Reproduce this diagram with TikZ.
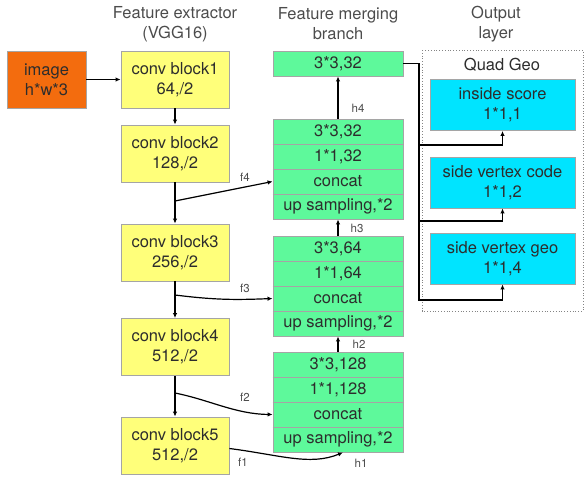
\documentclass[tikz,border=0pt]{standalone}
\usepackage{fontspec}
\setmainfont{TeX Gyre Heros}
\usetikzlibrary{arrows.meta}
\definecolor{orng}{RGB}{243,108,14}
\definecolor{ylw}{RGB}{255,255,122}
\definecolor{grn}{RGB}{94,249,155}
\definecolor{cyn}{RGB}{0,228,255}
\definecolor{txt}{RGB}{45,45,45}
\definecolor{bdr}{RGB}{165,165,165}
\begin{document}
\begin{tikzpicture}[x=1pt,y=-1pt,
  box/.style={draw=bdr,line width=0.9pt,inner sep=0pt,align=center,text=txt,font=\fontsize{16.5}{20}\selectfont},
  img/.style={box,fill=orng,minimum width=79pt,minimum height=57pt},
  conv/.style={box,fill=ylw,minimum width=108pt,minimum height=57pt},
  mrg/.style={box,fill=grn,minimum width=130pt,minimum height=25pt},
  outb/.style={box,fill=cyn,minimum width=145pt,minimum height=51pt},
  head/.style={text=txt!85,align=center,font=\fontsize{16.5}{20}\selectfont},
  lbl/.style={text=txt!85,font=\fontsize{11.5}{13}\selectfont},
  arr/.style={-{Latex[length=5pt,width=4.5pt]},line width=1.2pt,black}]
\useasboundingbox (0,0) rectangle (586,482);
% headers
\node[head] (h1t) at (175,24) {Feature extractor\\(VGG16)};
\node[head] (h2t) at (338,24) {Feature merging\\branch};
\node[head] (h3t) at (496,24) {Output\\layer};
% output frame
\draw[bdr!80!black,dotted,line width=0.8pt] (422,50) rectangle (583,311);
\node[text=txt,font=\fontsize{16.5}{20}\selectfont] (qg) at (502,65) {Quad Geo};
% image & conv blocks
\node[img] (im) at (46.5,79.5) {image\\h*w*3};
\node[conv] (c1) at (175,79.5) {conv block1\\64,/2};
\node[conv] (c2) at (175,153.5) {conv block2\\128,/2};
\node[conv] (c3) at (175,252.5) {conv block3\\256,/2};
\node[conv] (c4) at (175,347) {conv block4\\512,/2};
\node[conv] (c5) at (175,445.5) {conv block5\\512,/2};
% merging branch
\node[mrg] (m4) at (338,63.5) {3*3,32};
\node[mrg] (a1) at (338,131.5) {3*3,32};
\node[mrg] (a2) at (338,156.5) {1*1,32};
\node[mrg] (a3) at (338,181.5) {concat};
\node[mrg] (a4) at (338,206.5) {up sampling,*2};
\node[mrg] (b1) at (338,248.5) {3*3,64};
\node[mrg] (b2) at (338,273.5) {1*1,64};
\node[mrg] (b3) at (338,298.5) {concat};
\node[mrg] (b4) at (338,323.5) {up sampling,*2};
\node[mrg] (d1) at (338,364.5) {3*3,128};
\node[mrg] (d2) at (338,389.5) {1*1,128};
\node[mrg] (d3) at (338,414.5) {concat};
\node[mrg] (d4) at (338,439.5) {up sampling,*2};
% row separators redrawn on top
\foreach \r in {a1,a2,a3,b1,b2,b3,d1,d2,d3}
  \draw[bdr,line width=0.9pt] (\r.south west) -- (\r.south east);
% output boxes
\node[outb] (os) at (502.5,105) {inside score\\1*1,1};
\node[outb] (oc) at (502.5,182.5) {side vertex code\\1*1,2};
\node[outb] (og) at (502.5,258.5) {side vertex geo\\1*1,4};
% extractor arrows
\draw[arr] (im) -- (c1);
\draw[arr] (c1) -- (c2);
\draw[arr] (c2) -- (c3);
\draw[arr] (c3) -- (c4);
\draw[arr] (c4) -- (c5);
% skip connections
\coordinate (s4) at (175,201);
\coordinate (s3) at (175,295);
\coordinate (s2) at (175,393);
\draw[arr] (s4) -- (a3.west);
\draw[arr] (s3) .. controls (215,300) and (235,300) .. (b3.west);
\draw[arr] (s2) .. controls (210,400) and (235,414) .. (d3.west);
\draw[arr] (c5.east) ++(0,3) .. controls (280,455) and (310,466) .. (d4.south -| 343,0);
% up arrows
\draw[arr] (a1.north) -- (m4.south);
\draw[arr] (b1.north) -- (a4.south);
\draw[arr] (d1.north) -- (b4.south);
% labels
\node[lbl] (lf4) at (245,177) {f4};
\node[lbl] (lf3) at (245,288) {f3};
\node[lbl] (lf2) at (245,397) {f2};
\node[lbl] (lf1) at (243,462) {f1};
\node[lbl] (lh4) at (358,108) {h4};
\node[lbl] (lh3) at (357,228) {h3};
\node[lbl] (lh2) at (359,344) {h2};
\node[lbl] (lh1) at (361,463) {h1};
% output connections
\coordinate (j1) at (419,145);
\coordinate (j2) at (419,221);
\coordinate (j3) at (419,300);
\draw[arr] (m4.east) -| (j1) -| (os.south);
\draw[arr] (j1) -- (j2) -| (oc.south);
\draw[arr] (j2) -- (j3) -| (og.south);
\end{tikzpicture}
\end{document}
